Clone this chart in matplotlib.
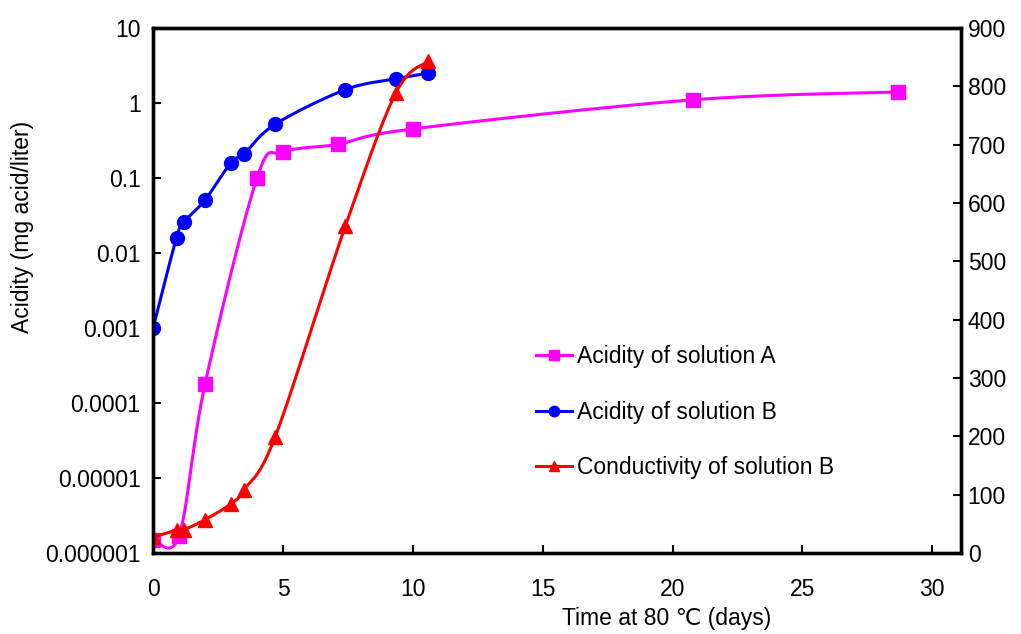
import numpy as np
import matplotlib
matplotlib.use('Agg')
import matplotlib.pyplot as plt
from matplotlib.lines import Line2D

plt.rcParams['font.family'] = ['Liberation Sans', 'DejaVu Sans']

# ==== dados ====
dias_a = [0, 1.0, 2.0, 4.0, 5.0, 7.1, 10.0, 20.8, 28.7]
acid_a = [1.5e-6, 1.7e-6, 1.8e-4, 0.1, 0.22, 0.28, 0.45, 1.1, 1.4]

dias_b = [0, 0.9, 1.2, 2.0, 3.0, 3.5, 4.7, 7.4, 9.35, 10.6]
acid_b = [1e-3, 0.016, 0.026, 0.051, 0.16, 0.21, 0.52, 1.5, 2.1, 2.5]
cond_b = [27, 39, 40, 57, 84, 108, 199, 560, 789, 843]

lab_a = 'Acidity of solution A'
lab_b = 'Acidity of solution B'
lab_c = 'Conductivity of solution B'


def suave(x, y, n=30):
    # curva suave tipo Excel (Catmull-Rom via Bezier)
    x = np.asarray(x, float)
    y = np.asarray(y, float)
    px, py = [], []
    m = len(x)
    for k in range(m - 1):
        x0, y0 = (x[k - 1], y[k - 1]) if k > 0 else (x[k], y[k])
        x3, y3 = (x[k + 2], y[k + 2]) if k + 2 < m else (x[k + 1], y[k + 1])
        c1x = x[k] + (x[k + 1] - x0) / 6
        c1y = y[k] + (y[k + 1] - y0) / 6
        c2x = x[k + 1] - (x3 - x[k]) / 6
        c2y = y[k + 1] - (y3 - y[k]) / 6
        t = np.linspace(0, 1, n)
        b0, b1, b2, b3 = (1 - t) ** 3, 3 * t * (1 - t) ** 2, 3 * t ** 2 * (1 - t), t ** 3
        px.extend(b0 * x[k] + b1 * c1x + b2 * c2x + b3 * x[k + 1])
        py.extend(b0 * y[k] + b1 * c1y + b2 * c2y + b3 * y[k + 1])
    return np.array(px), np.array(py)


fig = plt.figure(figsize=(10.21, 6.34), dpi=100)
ax = fig.add_axes([0.15, 0.128, 0.791, 0.828])
ax2 = ax.twinx()

lw = 2.2
ms = 9.5
fs = 16.5

xs, ys = suave(dias_a, np.log10(acid_a))
ax.plot(xs, 10 ** ys, color='#ff00ff', lw=lw)
ax.plot(dias_a, acid_a, 's', color='#ff00ff', ms=ms)

xs, ys = suave(dias_b, np.log10(acid_b))
ax.plot(xs, 10 ** ys, color='#0000ff', lw=lw)
ax.plot(dias_b, acid_b, 'o', color='#0000ff', ms=ms + 0.5)

xs, ys = suave(dias_b, cond_b)
ax2.plot(xs, ys, color='#ff0000', lw=lw)
ax2.plot(dias_b, cond_b, '^', color='#ff0000', ms=ms + 0.5)

ax.set_yscale('log')
ax.set_ylim(1e-6, 10)
ax.set_xlim(0, 31.1)
ax2.set_ylim(0, 900)

ax.set_xticks([0, 5, 10, 15, 20, 25, 30])
ax.set_yticks([1e-6, 1e-5, 1e-4, 1e-3, 1e-2, 1e-1, 1, 10])
ax.set_yticklabels(['0.000001', '0.00001', '0.0001', '0.001', '0.01', '0.1', '1', '10'])
ax.yaxis.set_minor_locator(matplotlib.ticker.NullLocator())
ax2.set_yticks(range(0, 901, 100))

for a in (ax, ax2):
    for s in a.spines.values():
        s.set_linewidth(2.4)
    a.tick_params(direction='in', length=6, width=1.5, labelsize=fs)
ax.tick_params(axis='x', pad=18)
ax.tick_params(axis='y', pad=9)
ax2.tick_params(axis='y', pad=5)

ax.set_xlabel('Time at 80 \u2103 (days)', fontsize=fs)
ax.set_ylabel('Acidity (mg acid/liter)', fontsize=fs)
ax.xaxis.set_label_coords(0.636, -0.104)
ax.yaxis.set_label_coords(-0.147, 0.62)

handles = [
    Line2D([], [], color='#ff00ff', marker='s', lw=lw, ms=7.5),
    Line2D([], [], color='#0000ff', marker='o', lw=lw, ms=7.5),
    Line2D([], [], color='#ff0000', marker='^', lw=lw, ms=7.5),
]
ax.legend(handles, [lab_a, lab_b, lab_c], loc='upper left', frameon=False,
          bbox_to_anchor=(0.505, 0.488), bbox_transform=fig.transFigure,
          fontsize=fs, handlelength=1.57, handletextpad=0.22, labelspacing=1.41)

fig.savefig('out.png', dpi=100)
